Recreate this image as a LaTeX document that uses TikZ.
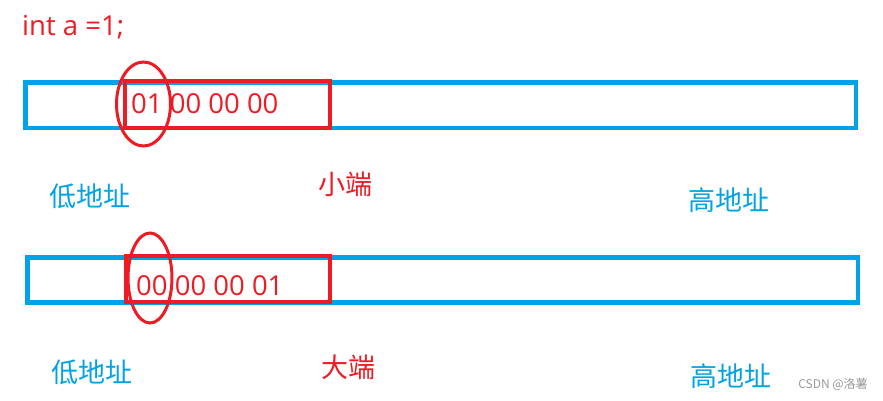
\documentclass[tikz,border=0pt]{standalone}
\usepackage{fontspec}
\setmainfont{Noto Sans CJK SC}
\newfontfamily\latinfont{Open Sans}
\definecolor{pred}{HTML}{ED1C24}
\definecolor{pblue}{HTML}{00A2E8}
\begin{document}
\begin{tikzpicture}[x=1pt,y=-1pt,
  mem/.style={draw=pblue,line width=4.5pt},
  sel/.style={draw=pred,line width=4pt},
  ring/.style={draw=pred,line width=3pt},
  redtxt/.style={text=pred,font=\fontsize{27}{30}\selectfont,inner sep=0pt},
  numtxt/.style={text=pred,font=\latinfont\fontsize{27.5}{30}\selectfont,inner sep=0pt},
  bluetxt/.style={text=pblue,font=\fontsize{27}{30}\selectfont,inner sep=0pt},
  marktxt/.style={text=gray!80,font=\sffamily\fontsize{12}{14}\selectfont,inner sep=0pt}]
\useasboundingbox[fill=white] (0,0) rectangle (883,400);
\node[numtxt,anchor=base west] (code) at (22,35) {int a =1;};
% little endian
\draw[mem] (25.5,82.5) rectangle (856,128) coordinate (memA);
\node[numtxt,anchor=base west] (bytesA) at (131,113) {01 00 00 00};
\draw[sel] (125,81) rectangle (329.5,127.5);
\draw[ring] (143.5,104) ellipse [x radius=27,y radius=42];
\node[bluetxt] (lowA) at (90,196) {低地址};
\node[redtxt] (little) at (345,184) {小端};
\node[bluetxt] (highA) at (729,200) {高地址};
% big endian
\draw[mem] (27.5,257.5) rectangle (858,302.5);
\node[numtxt,anchor=base west] (bytesB) at (136,295) {00 00 00 01};
\draw[sel] (125.5,255.5) rectangle (330,302);
\draw[ring] (150,278) ellipse [x radius=22,y radius=45];
\node[bluetxt] (lowB) at (92,372) {低地址};
\node[redtxt] (big) at (348,367) {大端};
\node[bluetxt] (highB) at (731,376) {高地址};
\node[marktxt] (mark) at (833,384) {\fontspec{Noto Sans CJK SC}CSDN @洛薯};
\end{tikzpicture}
\end{document}
